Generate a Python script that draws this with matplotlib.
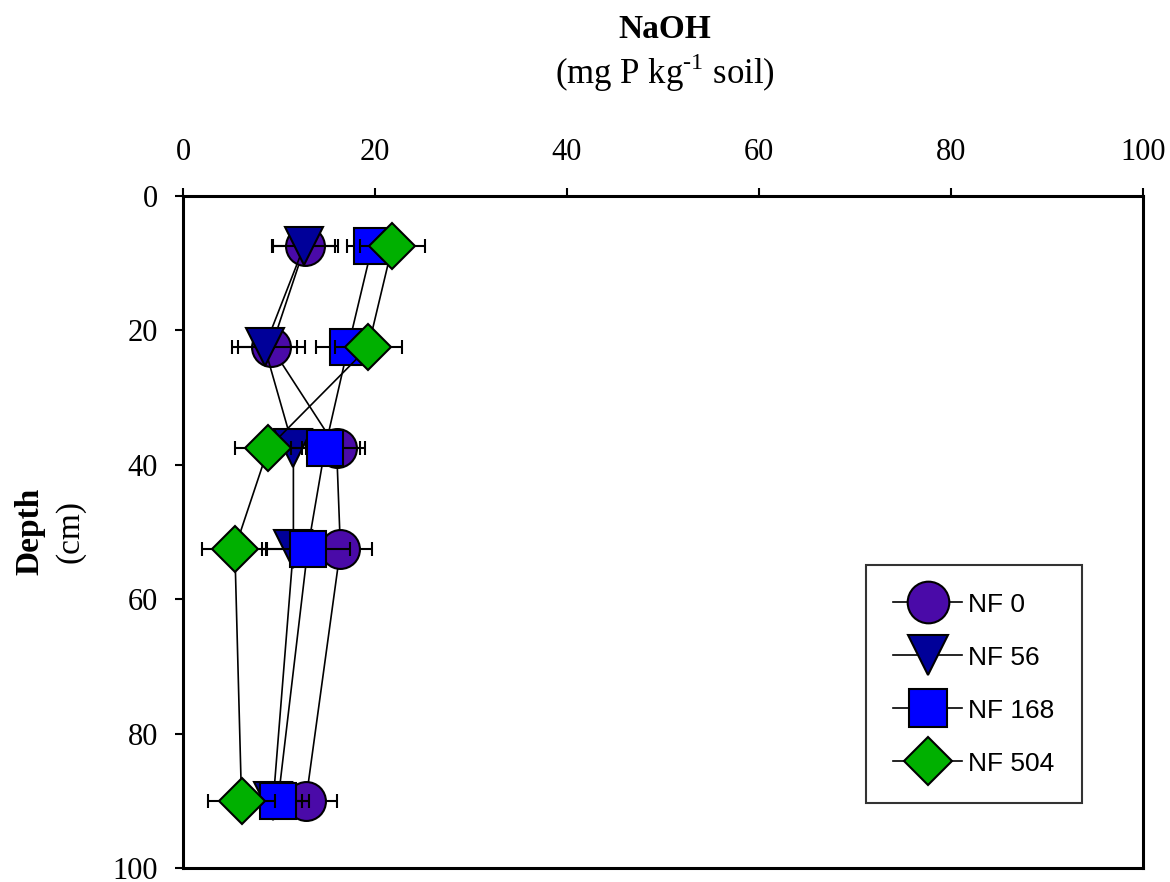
import matplotlib
matplotlib.use("Agg")
import matplotlib.pyplot as plt
from matplotlib.lines import Line2D

# ================================
# DADOS
# ================================
depth = [7.5, 22.5, 37.5, 52.5, 90]

nf0 = [12.7, 9.2, 16.0, 16.4, 12.8]
nf0_err = [3.4, 3.5, 3.0, 3.3, 3.2]

nf56 = [12.6, 8.5, 11.5, 11.5, 9.4]
nf56_err = [3.2, 3.4, 1.3, 3.3, 3.0]

nf168 = [19.7, 17.2, 14.8, 13.0, 9.9]
nf168_err = [2.6, 3.3, 3.6, 4.4, 3.2]

nf504 = [21.8, 19.3, 8.9, 5.4, 6.1]
nf504_err = [3.4, 3.5, 3.5, 3.4, 3.5]

labels = ["NF 0", "NF 56", "NF 168", "NF 504"]
series = [nf0, nf56, nf168, nf504]
errors = [nf0_err, nf56_err, nf168_err, nf504_err]

# estilo de cada série
markers = ["o", "v", "s", "D"]
colors = ["#4a0aa8", "#000099", "#0000ff", "#00b000"]
sizes = [28, 27, 26, 23]
sizes_leg = [30, 29, 27, 24]

plt.rcParams["font.family"] = ["Liberation Serif", "DejaVu Serif"]
plt.rcParams["mathtext.fontset"] = "custom"
plt.rcParams["mathtext.rm"] = "Liberation Serif"

fig = plt.figure(figsize=(11.7, 8.82), dpi=100)
ax = fig.add_axes([0.1564, 0.0159, 0.8205, 0.7619])

for i, (vals, err) in enumerate(zip(series, errors)):
    ax.errorbar(vals, depth, xerr=err, fmt="-", color="black", linewidth=1.2,
                marker=markers[i], markersize=sizes[i], markerfacecolor=colors[i],
                markeredgecolor="black", markeredgewidth=1.5,
                ecolor="black", elinewidth=1.5, capsize=4.7, capthick=1.5,
                zorder=3 + i, clip_on=False)

ax.set_xlim(0, 100)
ax.set_ylim(100, 0)
ax.set_xticks(range(0, 101, 20))
ax.set_yticks(range(0, 101, 20))

ax.xaxis.tick_top()
ax.tick_params(axis="x", which="both", direction="out", length=6, width=1.5,
               pad=15, labelsize=22)
ax.tick_params(axis="y", which="both", direction="out", length=6, width=1.5,
               pad=12, labelsize=22)
for s in ax.spines.values():
    s.set_linewidth(2.2)

# títulos
fig.text(0.568, 0.966, "NaOH", ha="center", va="center", fontsize=24,
         fontweight="bold")
fig.text(0.568, 0.918, r"(mg P kg$^{\text{-1}}$ soil)", ha="center",
         va="center", fontsize=25)
fig.text(0.026, 0.397, "Depth", ha="center", va="center", rotation=90,
         fontsize=24, fontweight="bold")
fig.text(0.060, 0.397, "(cm)", ha="center", va="center", rotation=90,
         fontsize=24)

# legenda
handles = [Line2D([0], [0], color="black", linewidth=1.2, marker=markers[i],
                  markersize=sizes_leg[i], markerfacecolor=colors[i],
                  markeredgecolor="black", markeredgewidth=1.5)
           for i in range(len(labels))]
leg = ax.legend(handles, labels, loc="upper left", bbox_to_anchor=(0.711, 0.451),
                borderaxespad=0, frameon=True, fancybox=False, handlelength=2.6,
                labelspacing=1.1, borderpad=1.05, handletextpad=0.25,
                prop={"family": "Liberation Sans", "size": 19})
leg.get_frame().set_edgecolor("black")
leg.get_frame().set_linewidth(1.5)

fig.savefig("out.png", dpi=100)
